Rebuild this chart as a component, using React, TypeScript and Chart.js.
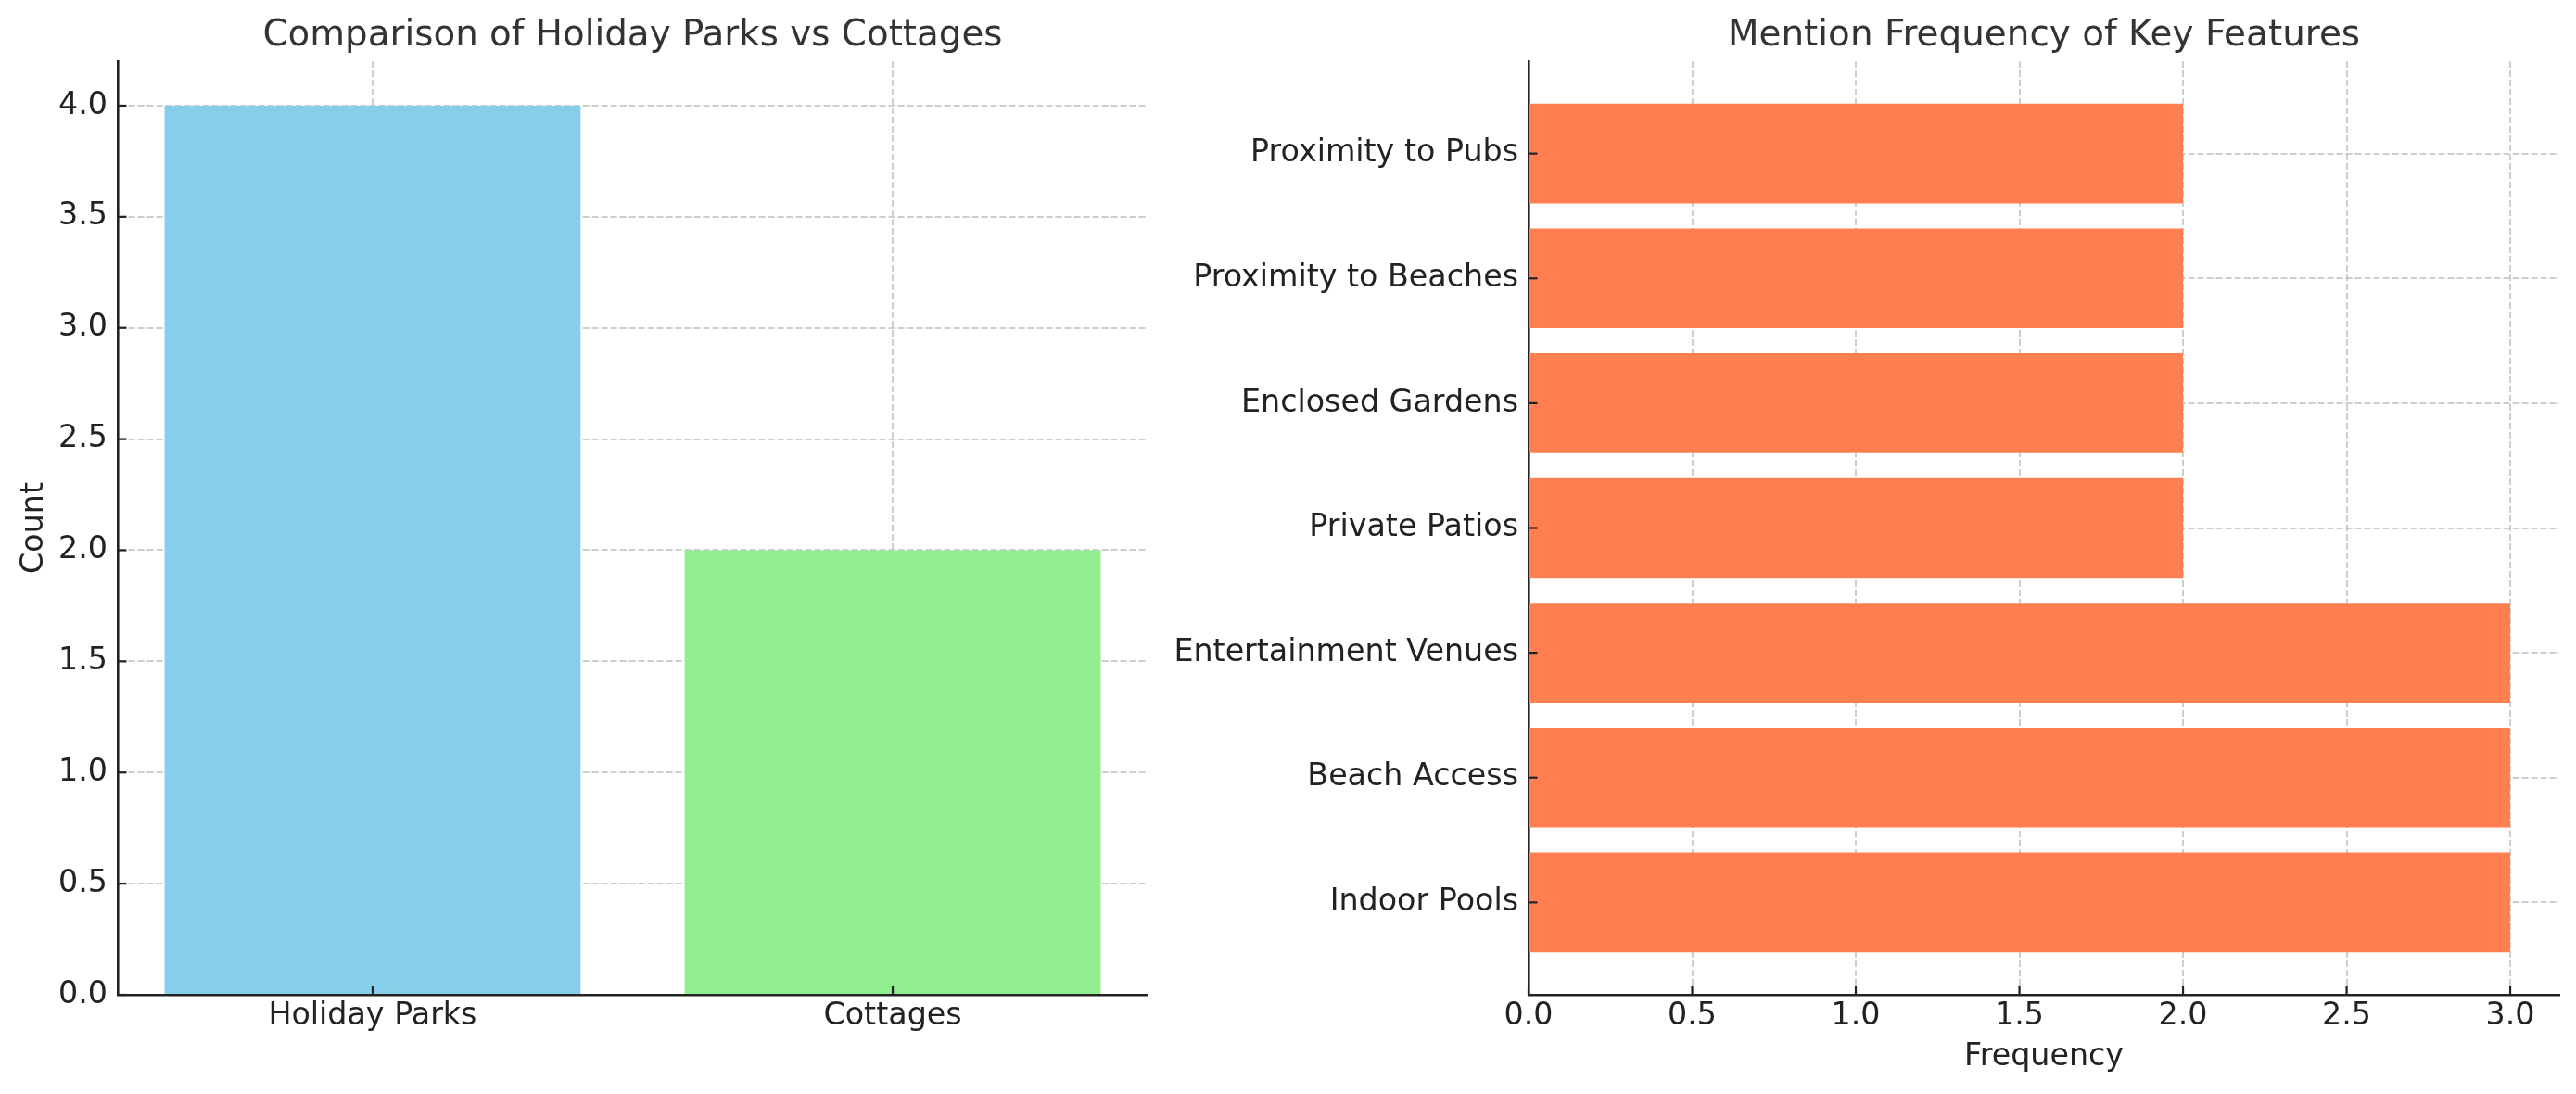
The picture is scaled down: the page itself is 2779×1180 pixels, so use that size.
import React, { useEffect, useRef } from "react";
import { Chart, registerables } from "chart.js";

Chart.register(...registerables);

// ---- data ----
const parkCategories = ["Holiday Parks", "Cottages"];
const parkCounts = [4, 2];
const countTicks = [0, 0.5, 1, 1.5, 2, 2.5, 3, 3.5, 4];

const featureLabels = [
  "Indoor Pools",
  "Beach Access",
  "Entertainment Venues",
  "Private Patios",
  "Enclosed Gardens",
  "Proximity to Beaches",
  "Proximity to Pubs",
];
const featureFrequency = [3, 3, 3, 2, 2, 2, 2];
const frequencyTicks = [0, 0.5, 1, 1.5, 2, 2.5, 3];

// ---- styling ----
const FONT = "'DejaVu Sans', 'Liberation Sans', sans-serif";
const TICK_SIZE = 33.3;
const TEXT = "#222222";
const GRID = "rgba(176,176,176,0.62)";
const TITLE_BLOCK = 66;

const inwardTicks = {
  id: "inwardTicks",
  afterDraw(chart: any) {
    const { ctx, chartArea } = chart;
    const xs = chart.scales.x;
    const ys = chart.scales.y;
    ctx.save();
    ctx.strokeStyle = TEXT;
    ctx.lineWidth = 2.2;
    ctx.setLineDash([]);
    xs.ticks.forEach((t: any) => {
      const p = xs.getPixelForValue(t.value);
      ctx.beginPath();
      ctx.moveTo(p, chartArea.bottom);
      ctx.lineTo(p, chartArea.bottom - 9.5);
      ctx.stroke();
    });
    ys.ticks.forEach((t: any) => {
      const p = ys.getPixelForValue(t.value);
      ctx.beginPath();
      ctx.moveTo(chartArea.left, p);
      ctx.lineTo(chartArea.left + 9.5, p);
      ctx.stroke();
    });
    ctx.restore();
  },
};

const gridOpts = { color: GRID, lineWidth: 2, drawTicks: false, offset: false };
const borderOpts = { display: true, color: TEXT, width: 2.6, dash: [7, 3] };
const tickFont = { family: FONT, size: TICK_SIZE };

function titleOpts(text: string, size: number) {
  const bottom = 4;
  const top = TITLE_BLOCK - bottom - size * 1.2;
  return {
    display: true,
    text,
    fullSize: false,
    color: "#333333",
    font: { family: FONT, size, weight: "normal" as const },
    padding: { top, bottom },
  };
}

function LeftChart() {
  const ref = useRef<HTMLCanvasElement | null>(null);
  useEffect(() => {
    if (!ref.current) return;
    const chart = new Chart(ref.current, {
      type: "bar",
      data: {
        datasets: [
          {
            data: parkCategories.map((_, i) => ({ x: i, y: parkCounts[i] })),
            backgroundColor: ["#87CEEB", "#90EE90"],
            borderWidth: 0,
            categoryPercentage: 1,
            barPercentage: 0.8,
          },
        ],
      },
      options: {
        animation: false,
        responsive: false,
        devicePixelRatio: 1,
        layout: { padding: { left: 0, right: 12, top: 0, bottom: 0 } },
        plugins: {
          legend: { display: false },
          tooltip: { enabled: false },
          title: titleOpts("Comparison of Holiday Parks vs Cottages", 38.8),
        },
        scales: {
          x: {
            type: "linear",
            min: -0.49,
            max: 1.49,
            offset: false,
            z: 1,
            grid: gridOpts,
            border: borderOpts,
            afterBuildTicks: (axis: any) => {
              axis.ticks = parkCategories.map((_, i) => ({ value: i }));
            },
            afterFit: (axis: any) => {
              axis.height = 107;
            },
            ticks: {
              padding: 3,
              maxRotation: 0,
              autoSkip: false,
              color: TEXT,
              font: tickFont,
              callback: (v: any) => parkCategories[Math.round(Number(v))] ?? "",
            },
          },
          y: {
            type: "linear",
            min: 0,
            max: 4.2,
            offset: false,
            z: 1,
            grid: gridOpts,
            border: borderOpts,
            afterBuildTicks: (axis: any) => {
              axis.ticks = countTicks.map((v) => ({ value: v }));
            },
            afterFit: (axis: any) => {
              axis.width = 127;
            },
            title: {
              display: true,
              text: "Count",
              color: TEXT,
              font: tickFont,
              padding: { top: 17, bottom: 0 },
            },
            ticks: {
              padding: 11,
              color: TEXT,
              font: tickFont,
              callback: (v: any) => Number(v).toFixed(1),
            },
          },
        },
      },
      plugins: [inwardTicks],
    } as any);
    return () => chart.destroy();
  }, []);
  return (
    <canvas
      ref={ref}
      width={1250}
      height={1180}
      style={{ position: "absolute", left: 0, top: 0, width: 1250, height: 1180 }}
    />
  );
}

function RightChart() {
  const ref = useRef<HTMLCanvasElement | null>(null);
  useEffect(() => {
    if (!ref.current) return;
    const chart = new Chart(ref.current, {
      type: "bar",
      data: {
        datasets: [
          {
            data: featureLabels.map((_, i) => ({ x: featureFrequency[i], y: i })),
            backgroundColor: "#FF7F50",
            borderWidth: 0,
            categoryPercentage: 1,
            barPercentage: 0.8,
          },
        ],
      },
      options: {
        indexAxis: "y",
        animation: false,
        responsive: false,
        devicePixelRatio: 1,
        layout: { padding: { left: 0, right: 18, top: 0, bottom: 0 } },
        plugins: {
          legend: { display: false },
          tooltip: { enabled: false },
          title: titleOpts("Mention Frequency of Key Features", 38.9),
        },
        scales: {
          x: {
            type: "linear",
            min: 0,
            max: 3.15,
            offset: false,
            z: 1,
            grid: gridOpts,
            border: borderOpts,
            afterBuildTicks: (axis: any) => {
              axis.ticks = frequencyTicks.map((v) => ({ value: v }));
            },
            afterFit: (axis: any) => {
              axis.height = 107;
            },
            title: {
              display: true,
              text: "Frequency",
              color: TEXT,
              font: tickFont,
              padding: { top: 0, bottom: 20 },
            },
            ticks: {
              padding: 3,
              maxRotation: 0,
              autoSkip: false,
              color: TEXT,
              font: tickFont,
              callback: (v: any) => Number(v).toFixed(1),
            },
          },
          y: {
            type: "linear",
            min: -0.74,
            max: 6.74,
            offset: false,
            z: 1,
            grid: gridOpts,
            border: borderOpts,
            afterBuildTicks: (axis: any) => {
              axis.ticks = featureLabels.map((_, i) => ({ value: i }));
            },
            afterFit: (axis: any) => {
              axis.width = 399;
            },
            ticks: {
              padding: 11,
              autoSkip: false,
              color: TEXT,
              font: tickFont,
              callback: (v: any) => featureLabels[Math.round(Number(v))] ?? "",
            },
          },
        },
      },
      plugins: [inwardTicks],
    } as any);
    return () => chart.destroy();
  }, []);
  return (
    <canvas
      ref={ref}
      width={1529}
      height={1180}
      style={{ position: "absolute", left: 1250, top: 0, width: 1529, height: 1180 }}
    />
  );
}

export default function App() {
  return (
    <div
      style={{
        position: "fixed",
        left: 0,
        top: 0,
        width: 2779,
        height: 1180,
        background: "#ffffff",
        overflow: "hidden",
      }}
    >
      <LeftChart />
      <RightChart />
    </div>
  );
}
